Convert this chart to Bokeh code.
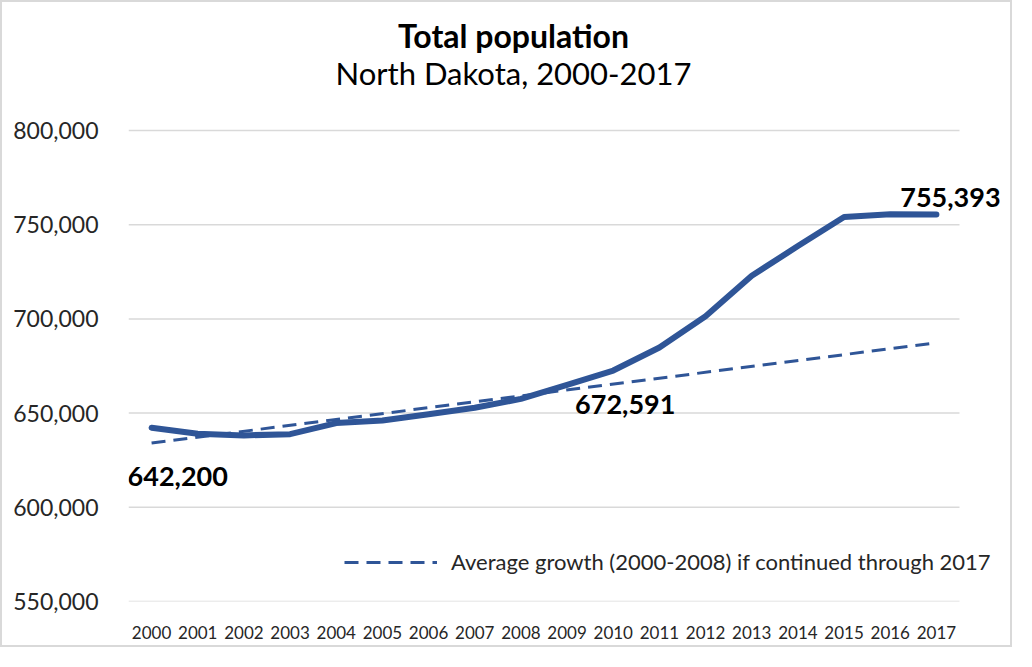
from bokeh.plotting import figure
from bokeh.models import Label, Legend, LegendItem, FixedTicker, NumeralTickFormatter
from bokeh.embed import file_html
from bokeh.resources import INLINE

years = list(range(2000, 2018))
population = [642200, 639062, 638168, 638817, 644705, 646089, 649422, 652822, 657569,
              664968, 672591, 684830, 701380, 722908, 738658, 754066, 755548, 755393]
trend_years = [2000, 2017]
trend_values = [634100, 687300]
y_ticks = [550000, 600000, 650000, 700000, 750000, 800000]
title_text = "Total population"
subtitle_text = "North Dakota, 2000-2017"
legend_text = "Average growth (2000-2008) if continued through 2017"
callouts = [(2000, 642200, "642,200"), (2010, 672591, "672,591"), (2017, 755393, "755,393")]

FONT = "Lato"
BLUE = "#2F5597"
GRID = "#d9d9d9"

# plot area (data extent) and extra room inside the frame for titles / labels
X_LO, X_HI = 1999.5, 2017.5
Y_LO, Y_HI = 550000, 800000
px_per_x = 831 / (X_HI - X_LO)
px_per_y = 471 / (Y_HI - Y_LO)
frame_x_end = X_HI + 47 / px_per_x
frame_y_end = Y_HI + 128 / px_per_y

p = figure(width=1012, height=647, output_backend="svg", toolbar_location=None,
           x_range=(X_LO, frame_x_end), y_range=(Y_LO, frame_y_end),
           min_border_left=126, min_border_right=8, min_border_top=0, min_border_bottom=48)
p.outline_line_color = None
p.background_fill_color = "white"
p.border_fill_color = "white"
p.styles = {"border": "2px solid #d9d9d9"}

p.xgrid.grid_line_color = None
p.ygrid.grid_line_color = None
p.segment(x0=[X_LO] * len(y_ticks), x1=[X_HI] * len(y_ticks), y0=y_ticks, y1=y_ticks,
          line_color=GRID, line_width=1.5)

p.yaxis.ticker = FixedTicker(ticks=y_ticks)
p.yaxis.formatter = NumeralTickFormatter(format="0,0")
p.xaxis.ticker = FixedTicker(ticks=years)
for ax in (p.xaxis[0], p.yaxis[0]):
    ax.axis_line_color = None
    ax.major_tick_line_color = None
    ax.minor_tick_line_color = None
    ax.major_label_text_font = FONT
    ax.major_label_text_color = "#262626"
p.yaxis.major_label_text_font_size = "23px"
p.yaxis.major_label_standoff = 24
p.xaxis.major_label_text_font_size = "17px"
p.xaxis.major_label_standoff = 18

trend = p.line(trend_years, trend_values, line_color=BLUE, line_width=3, line_dash="14 8")
p.line(years, population, line_color=BLUE, line_width=6, line_cap="round", line_join="round")

legend = Legend(items=[LegendItem(label=legend_text, renderers=[trend])],
                location=(216, 26), glyph_width=93, glyph_height=20, label_height=20,
                label_standoff=14, padding=0, margin=0, border_line_color=None,
                background_fill_alpha=0, label_text_font=FONT, label_text_font_size="22px",
                label_text_color="#262626")
p.add_layout(legend, "center")

offsets = {2000: (-24, -49, "left"), 2010: (12, -34, "center"), 2017: (14, 17, "center")}
for (x, y, t) in callouts:
    dx, dy, al = offsets[x]
    p.add_layout(Label(x=x, y=y, text=t, x_offset=dx, y_offset=dy, text_align=al,
                       text_baseline="middle", text_font=FONT, text_font_style="bold",
                       text_font_size="27px", text_color="black"))

p.add_layout(Label(x=385, y=566, x_units="screen", y_units="screen", text=title_text,
                   text_align="center", text_baseline="middle", text_font=FONT,
                   text_font_style="bold", text_font_size="32px", text_color="black"))
p.add_layout(Label(x=385, y=529, x_units="screen", y_units="screen", text=subtitle_text,
                   text_align="center", text_baseline="middle", text_font=FONT,
                   text_font_size="31px", text_color="black"))

open("out.html", "w").write(file_html(p, INLINE))
